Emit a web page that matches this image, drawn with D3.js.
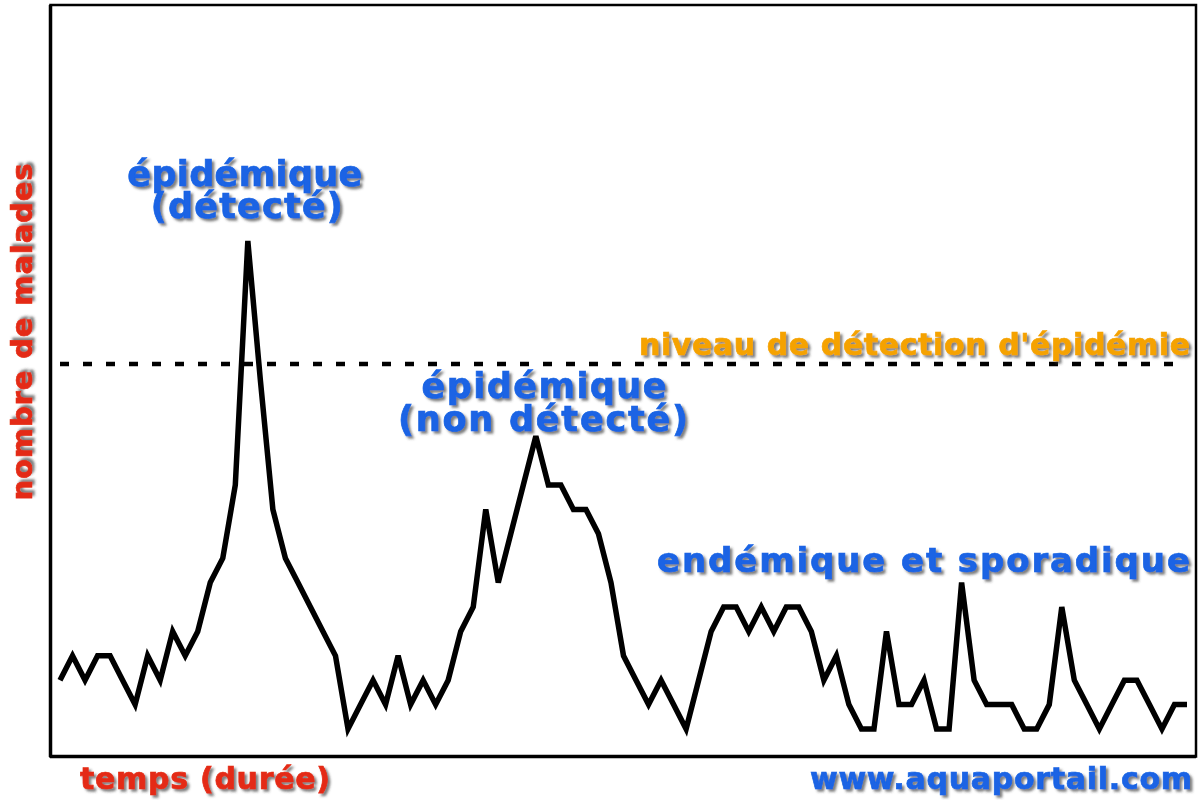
<!DOCTYPE html>
<html>
<head>
<meta charset="utf-8">
<script src="https://cdn.jsdelivr.net/npm/d3@7"></script>
<style>
  html, body { margin: 0; padding: 0; background: #fff; }
  svg { display: block; }
  text { font-family: "DejaVu Sans", Verdana, sans-serif; font-weight: bold; }
</style>
</head>
<body>
<svg id="chart" width="1200" height="800"></svg>
<script>
// ---- data ----
// number of sick people per time step (arbitrary units)
const cases = [
  2, 3, 2, 3, 3, 2, 1, 3, 2, 4,
  3, 4, 6, 7, 10, 20, 14.3, 9, 7, 6,
  5, 4, 3, 0, 1, 2, 1, 3, 1, 2,
  1, 2, 4, 5, 9, 6, 8, 10, 12, 10,
  10, 9, 9, 8, 6, 3, 2, 1, 2, 1,
  0, 2, 4, 5, 5, 4, 5, 4, 5, 5,
  4, 2, 3, 1, 0, 0, 4, 1, 1, 2,
  0, 0, 6, 2, 1, 1, 1, 0, 0, 1,
  5, 2, 1, 0, 1, 2, 2, 1, 0, 1, 1
];
const timeSteps = cases.map((_, i) => i);
const detectionLevel = 15;

const detectedLabel = ["épidémique", "(détecté)"];
const undetectedLabel = ["épidémique", "(non détecté)"];
const detectionLabel = "niveau de détection d'épidémie";
const endemicLabel = "endémique et sporadique";
const xAxisLabel = "temps (durée)";
const yAxisLabel = "nombre de malades";
const sourceLabel = "www.aquaportail.com";

// ---- drawing ----
const svg = d3.select("#chart");
const blue = "#1a64e4", orange = "#f5a200", red = "#e42a14";

const defs = svg.append("defs");
const f = defs.append("filter").attr("id", "shadow")
  .attr("x", "-10%").attr("y", "-30%").attr("width", "120%").attr("height", "160%");
f.append("feDropShadow").attr("dx", 2.5).attr("dy", 2.5)
  .attr("stdDeviation", 1.3).attr("flood-color", "#3a3a3a").attr("flood-opacity", 0.65);

const x = d3.scaleLinear().domain([0, timeSteps.length - 1]).range([60, 1187]);
const y = d3.scaleLinear().domain([0, 20]).range([729, 241]);

// frame
svg.append("rect")
  .attr("x", 50.5).attr("y", 5).attr("width", 1145.5).attr("height", 751.5)
  .attr("fill", "none").attr("stroke", "#000").attr("stroke-width", 2.5);
svg.append("line")
  .attr("x1", 50.5).attr("x2", 50.5).attr("y1", 5).attr("y2", 757)
  .attr("stroke", "#000").attr("stroke-width", 3.5);
svg.append("line")
  .attr("x1", 50).attr("x2", 1196).attr("y1", 756.5).attr("y2", 756.5)
  .attr("stroke", "#000").attr("stroke-width", 3.5);

// detection threshold
svg.append("line")
  .attr("x1", 60).attr("x2", 1187)
  .attr("y1", y(detectionLevel) + 1).attr("y2", y(detectionLevel) + 1)
  .attr("stroke", "#000").attr("stroke-width", 4.5)
  .attr("stroke-dasharray", "9,14");

// series
const line = d3.line().x((d, i) => x(timeSteps[i])).y(d => y(d));
svg.append("path")
  .datum(cases)
  .attr("d", line)
  .attr("fill", "none")
  .attr("stroke", "#000")
  .attr("stroke-width", 5.5)
  .attr("stroke-linejoin", "miter")
  .attr("stroke-miterlimit", 4);

function styled(t, size, color) {
  return t.attr("font-size", size)
    .attr("fill", color)
    .attr("stroke", color)
    .attr("stroke-width", 0.7)
    .attr("filter", "url(#shadow)");
}

function label(txt, px, py, anchor, size, color, len, rotate) {
  const t = styled(svg.append("text"), size, color)
    .attr("text-anchor", anchor)
    .attr("textLength", len)
    .attr("lengthAdjust", "spacing")
    .text(txt);
  if (rotate) t.attr("transform", `translate(${px},${py}) rotate(${rotate})`);
  else t.attr("x", px).attr("y", py);
  return t;
}

// two-line label as one text element with tspans
function label2(lines, specs, size, color) {
  const t = styled(svg.append("text"), size, color).attr("text-anchor", "middle");
  lines.forEach((ln, i) => {
    t.append("tspan")
      .attr("x", specs[i].x).attr("y", specs[i].y)
      .attr("textLength", specs[i].len)
      .attr("lengthAdjust", "spacing")
      .text(ln);
  });
  return t;
}

// annotations
const peak1 = cases.indexOf(d3.max(cases));
label2(detectedLabel, [
  { x: x(peak1) - 3, y: 186, len: 235 },
  { x: x(peak1) - 1, y: 218, len: 192 }
], 35, blue);

label2(undetectedLabel, [
  { x: 544, y: 398, len: 245 },
  { x: 543, y: 431, len: 290 }
], 35, blue);

label(detectionLabel, 1190, 355, "end", 30, orange, 551);
label(endemicLabel, 1190, 572, "end", 34, blue, 533);

label(xAxisLabel, 80, 789, "start", 30, red, 250);
label(sourceLabel, 1192, 789, "end", 30, blue, 382);
label(yAxisLabel, 32, 332, "middle", 29, red, 337, -90);
</script>
</body>
</html>
